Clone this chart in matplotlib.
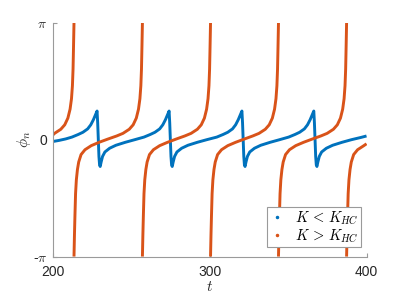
import numpy as np
import matplotlib as mpl
mpl.use("Agg")
import matplotlib.pyplot as plt
from matplotlib.lines import Line2D

mpl.rcParams['mathtext.fontset'] = 'cm'
mpl.rcParams['font.family'] = ['Liberation Sans', 'DejaVu Sans']

# phase of the weakly coupled case (K < K_HC)
t_low = [200, 204, 208.3, 212.3, 216.3, 219.3, 222.3, 224.3, 226.0, 227.3, 228.3,
         228.7, 229.1, 229.5, 229.9, 230.3, 230.9, 231.8, 233.3, 236.3, 240.3, 246.3, 252.3,
         258.2, 262.2, 265.2, 268.2, 270.2, 271.9, 273.2, 274.2,
         274.6, 275.0, 275.4, 275.8, 276.2, 276.8, 277.7, 279.2, 282.2, 286.2, 292.2, 298.2,
         304.6, 308.6, 311.6, 314.6, 316.6, 318.3, 319.6, 320.6,
         321.0, 321.4, 321.8, 322.2, 322.6, 323.2, 324.1, 325.6, 328.6, 332.6, 338.6, 344.6,
         350.4, 354.4, 357.4, 360.4, 362.4, 364.1, 365.4, 366.4,
         366.8, 367.2, 367.6, 368.0, 368.4, 369.0, 369.9, 371.4, 374.4, 378.4, 384.4, 390.4,
         396.4, 400]
phi_low = [-0.05, -0.02, 0.02, 0.07, 0.14, 0.20, 0.29, 0.40, 0.54, 0.67, 0.77,
           0.45, 0.0, -0.45, -0.68, -0.72, -0.60, -0.45, -0.33, -0.23, -0.15, -0.07, 0.0,
           0.07, 0.14, 0.20, 0.29, 0.40, 0.54, 0.67, 0.77,
           0.45, 0.0, -0.45, -0.68, -0.72, -0.60, -0.45, -0.33, -0.23, -0.15, -0.07, 0.0,
           0.07, 0.14, 0.20, 0.29, 0.40, 0.54, 0.67, 0.77,
           0.45, 0.0, -0.45, -0.68, -0.72, -0.60, -0.45, -0.33, -0.23, -0.15, -0.07, 0.0,
           0.07, 0.14, 0.20, 0.29, 0.40, 0.54, 0.67, 0.77,
           0.45, 0.0, -0.45, -0.68, -0.72, -0.60, -0.45, -0.33, -0.23, -0.15, -0.07, 0.0,
           0.06, 0.10]

# phase of the strongly coupled case (K > K_HC), one list per 2*pi slip
pi = np.pi
t_high_0 = [200, 201.2, 205.2, 207.7, 209.7, 211.1, 212.0, 212.6, 213.0, 213.3, 213.6]
phi_high_0 = [0.12, 0.17, 0.28, 0.40, 0.58, 0.82, 1.10, 1.45, 1.90, 2.50, pi]

phi_slip = [-pi, -2.55, -2.05, -1.45, -1.08, -0.80, -0.60, -0.40, -0.27, -0.16, -0.07,
            0.02, 0.10, 0.17, 0.28, 0.40, 0.58, 0.82, 1.10, 1.45, 1.90, 2.50, pi]
t_high_1 = [213.6, 213.9, 214.2, 214.6, 215.1, 215.8, 216.6, 218.1, 220.6, 224.6, 229.6,
            235.4, 240.8, 244.8, 248.8, 251.3, 253.3, 254.7, 255.6, 256.2, 256.6, 256.9, 257.2]
t_high_2 = [257.2, 257.5, 257.8, 258.2, 258.7, 259.4, 260.2, 261.7, 264.2, 268.2, 273.2,
            278.9, 284.2, 288.2, 292.2, 294.7, 296.7, 298.1, 299.0, 299.6, 300.0, 300.3, 300.6]
t_high_3 = [300.6, 300.9, 301.2, 301.6, 302.1, 302.8, 303.6, 305.1, 307.6, 311.6, 316.6,
            322.3, 327.5, 331.5, 335.5, 338.0, 340.0, 341.4, 342.3, 342.9, 343.3, 343.6, 343.9]
t_high_4 = [343.9, 344.2, 344.5, 344.9, 345.4, 346.1, 346.9, 348.4, 350.9, 354.9, 359.9,
            365.6, 370.9, 374.9, 378.9, 381.4, 383.4, 384.8, 385.7, 386.3, 386.7, 387.0, 387.3]
t_high_5 = [387.3, 387.6, 387.9, 388.3, 388.8, 389.5, 390.3, 391.8, 394.3, 398.3, 400]
phi_high_5 = [-pi, -2.55, -2.05, -1.45, -1.08, -0.80, -0.60, -0.40, -0.27, -0.16, -0.11]

high_segments = [(t_high_0, phi_high_0), (t_high_1, phi_slip), (t_high_2, phi_slip),
                 (t_high_3, phi_slip), (t_high_4, phi_slip), (t_high_5, phi_high_5)]

blue = '#0072BD'
orange = '#D95319'
grey = '#9a9a9a'
txt = '#262626'

fig = plt.figure(figsize=(4.05, 3.04), dpi=100)
ax = fig.add_axes([0.130, 0.156, 0.775, 0.769])

ax.plot(t_low, phi_low, color=blue, lw=2.1, solid_capstyle='butt')
for t_, p_ in high_segments:
    ax.plot(t_, p_, color=orange, lw=2.1, solid_capstyle='butt')

ax.set_xlim(200, 400)
ax.set_ylim(-pi, pi)
ax.set_xticks([200, 300, 400])
ax.set_yticks([-pi, 0, pi])
ax.set_yticklabels([r'-$\pi$', '0', r'$\pi$'])

for side in ['top', 'right']:
    ax.spines[side].set_visible(False)
for side in ['left', 'bottom']:
    ax.spines[side].set_color(grey)
    ax.spines[side].set_linewidth(0.8)

ax.tick_params(direction='in', length=3, width=0.8, color=grey,
               labelcolor=txt, labelsize=10)
ax.tick_params(axis='x', pad=6)
ax.tick_params(axis='y', pad=4)

ax.set_xlabel(r'$t$', fontsize=11, color=txt, labelpad=1)
ax.set_ylabel(r'$\phi_n$', fontsize=11, color=txt, labelpad=0)

handles = [Line2D([], [], ls='none', marker='.', markersize=3, color=blue),
           Line2D([], [], ls='none', marker='.', markersize=3, color=orange)]
leg = ax.legend(handles, [r'$K\,<\,K_{HC}$', r'$K\,>\,K_{HC}$'],
                loc='lower right', bbox_to_anchor=(0.982, 0.041),
                borderaxespad=0, fontsize=10.5, fancybox=False, framealpha=1,
                edgecolor=grey, handlelength=1.2, handletextpad=0.6,
                borderpad=0.15, labelspacing=0.02)
leg.get_frame().set_linewidth(0.8)

fig.savefig('out.png', dpi=100)
